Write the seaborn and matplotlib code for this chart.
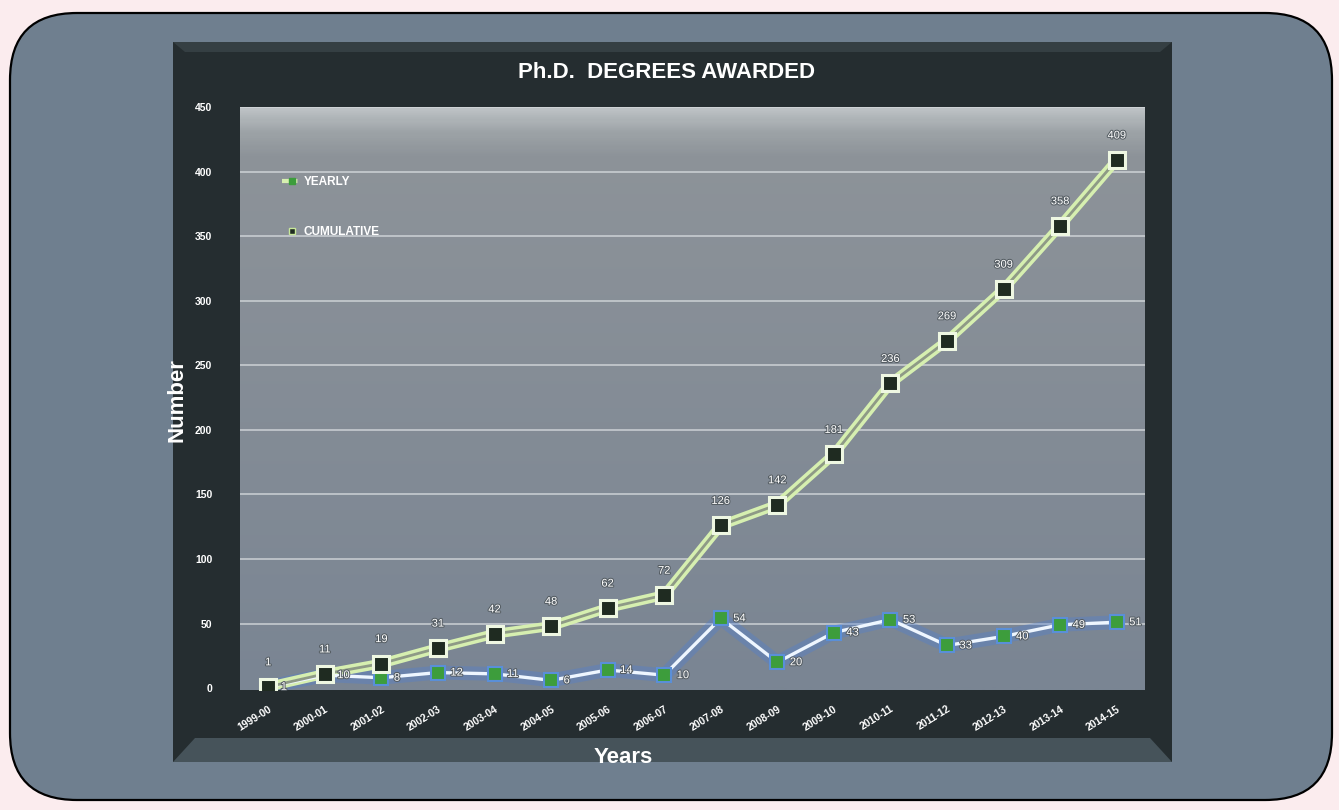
import matplotlib
matplotlib.use("Agg")
import matplotlib.pyplot as plt
import matplotlib.patches as mpatches
from matplotlib.colors import LinearSegmentedColormap
import matplotlib.patheffects as pe
import numpy as np
import pandas as pd
import seaborn as sns

# Datos
years = ['1999-00', '2000-01', '2001-02', '2002-03', '2003-04', '2004-05',
         '2005-06', '2006-07', '2007-08', '2008-09', '2009-10', '2010-11',
         '2011-12', '2012-13', '2013-14', '2014-15']
yearly = [1, 10, 8, 12, 11, 6, 14, 10, 54, 20, 43, 53, 33, 40, 49, 51]
cumulative = [1, 11, 19, 31, 42, 48, 62, 72, 126, 142, 181, 236, 269, 309, 358, 409]
y_ticks = [0, 50, 100, 150, 200, 250, 300, 350, 400, 450]

df = pd.DataFrame({'Years': years, 'YEARLY': yearly, 'CUMULATIVE': cumulative})
df['pos'] = range(len(years))

sns.set_style("white")
plt.rcParams['font.family'] = ['Liberation Sans', 'DejaVu Sans']

W, H = 1339, 810
fig = plt.figure(figsize=(W / 100, H / 100), dpi=100)
fig.patch.set_facecolor('#fbecee')

# Panel gris pizarra con esquinas redondeadas
panel = mpatches.FancyBboxPatch((10 / W, 1 - 800 / H), (1332 - 10) / W, (800 - 13) / H,
                                boxstyle="round,pad=0,rounding_size=0.05",
                                transform=fig.transFigure, facecolor='#6f7f8f',
                                edgecolor='black', linewidth=1.6, mutation_aspect=W / H,
                                zorder=-3)
fig.patches.append(panel)

# Marco oscuro del gráfico
frame = mpatches.Rectangle((173 / W, 1 - 762 / H), (1172 - 173) / W, (762 - 42) / H,
                           transform=fig.transFigure, facecolor='#252d30', edgecolor='none',
                           zorder=-2)
fig.patches.append(frame)
bevel_bottom = mpatches.Polygon([(173 / W, 1 - 762 / H), (1172 / W, 1 - 762 / H),
                                 (1150 / W, 1 - 738 / H), (195 / W, 1 - 738 / H)],
                                closed=True, transform=fig.transFigure,
                                facecolor='#46535a', edgecolor='none', zorder=-1)
fig.patches.append(bevel_bottom)
bevel_top = mpatches.Polygon([(173 / W, 1 - 42 / H), (1172 / W, 1 - 42 / H),
                              (1160 / W, 1 - 52 / H), (185 / W, 1 - 52 / H)],
                             closed=True, transform=fig.transFigure,
                             facecolor='#353f43', edgecolor='none', zorder=-1)
fig.patches.append(bevel_top)

ax = fig.add_axes([240 / W, 1 - 690 / H, (1145 - 240) / W, (690 - 107) / H])
ax.set_zorder(2)
ax.set_xlim(-0.5, 15.5)
ax.set_ylim(-1.5, 450)

# Fondo degradado del área de trazado
grad = np.linspace(0, 1, 300).reshape(-1, 1)
cmap = LinearSegmentedColormap.from_list('bg', [(0, '#bcc1c4'), (0.04, '#9da3a7'),
                                                (0.08, '#8d9399'), (1, '#7a8593')])
ax.imshow(grad, extent=[-0.5, 15.5, -1.5, 450], aspect='auto', cmap=cmap,
          origin='upper', zorder=0)

for t in y_ticks[1:]:
    ax.axhline(t, color='#d8dcdf', linewidth=1.2, alpha=0.8, zorder=1)

# Serie acumulada: línea doble verde claro
sns.lineplot(data=df, x='pos', y='CUMULATIVE', ax=ax, color='#d6efb0', linewidth=7,
             zorder=3, legend=False)
sns.lineplot(data=df, x='pos', y='CUMULATIVE', ax=ax, color='#8e9a86', linewidth=2,
             marker='s', markersize=12, markerfacecolor='#1f2b21',
             markeredgecolor='#eef7e2', markeredgewidth=2.2, zorder=4,
             label='CUMULATIVE', legend=False)

# Serie anual: línea blanca con resplandor azul
sns.lineplot(data=df, x='pos', y='YEARLY', ax=ax, color='#4d7fd6', linewidth=10,
             alpha=0.35, zorder=2, legend=False)
sns.lineplot(data=df, x='pos', y='YEARLY', ax=ax, color='#eef6ff', linewidth=2.4,
             marker='s', markersize=10, markerfacecolor='#3d9d3c',
             markeredgecolor='#5a8fd8', markeredgewidth=1.5, zorder=3,
             label='YEARLY', legend=False)

glow = [pe.withStroke(linewidth=1.5, foreground='#555d63')]
for i, v in enumerate(cumulative):
    ax.annotate(str(v), (i, v), xytext=(0, 14), textcoords='offset points',
                ha='center', va='bottom', color='white', fontsize=8, path_effects=glow,
                zorder=6)
for i, v in enumerate(yearly):
    ax.annotate(str(v), (i, v), xytext=(9, 0), textcoords='offset points',
                ha='left', va='center', color='white', fontsize=8, path_effects=glow,
                zorder=6)

# Leyenda
handles = [
    plt.Line2D([], [], color='#d6efb0', linewidth=3, linestyle='--', marker='s',
               markersize=4, markerfacecolor='#3d9d3c', markeredgecolor='#3d9d3c'),
    plt.Line2D([], [], color='none', marker='s', markersize=5,
               markerfacecolor='#1f2b21', markeredgecolor='#c8e89a'),
]
leg = ax.legend(handles, ['YEARLY', 'CUMULATIVE'], loc='upper left',
                bbox_to_anchor=(0.035, 0.9), frameon=False, labelspacing=3.2,
                handlelength=1.6, handletextpad=0.2,
                prop={'weight': 'bold', 'size': 8.5})
for txt in leg.get_texts():
    txt.set_color('white')

# Ejes y etiquetas
ax.set_xticks(range(len(years)))
ax.set_xticklabels(years, rotation=32, ha='right', rotation_mode='anchor',
                   color='white', fontsize=7.5, fontweight='bold')
ax.set_yticks(y_ticks)
ax.set_yticklabels([str(t) for t in y_ticks], color='white', fontsize=7.5, fontweight='bold')
ax.tick_params(axis='both', length=0)
ax.tick_params(axis='x', pad=10)
ax.tick_params(axis='y', pad=20)
for s in ax.spines.values():
    s.set_visible(False)

ax.set_xlabel('Years', color='white', fontsize=16, fontweight='bold')
ax.xaxis.set_label_coords(0.423, -0.097)
ax.set_ylabel('Number', color='white', fontsize=16, fontweight='bold')
ax.yaxis.set_label_coords(-0.058, 0.497)

fig.text(667 / W, 1 - 72 / H, 'Ph.D.  DEGREES AWARDED', color='white', fontsize=16,
         fontweight='bold', ha='center', va='center', zorder=3)

fig.savefig('out.png', dpi=100, facecolor=fig.get_facecolor())
